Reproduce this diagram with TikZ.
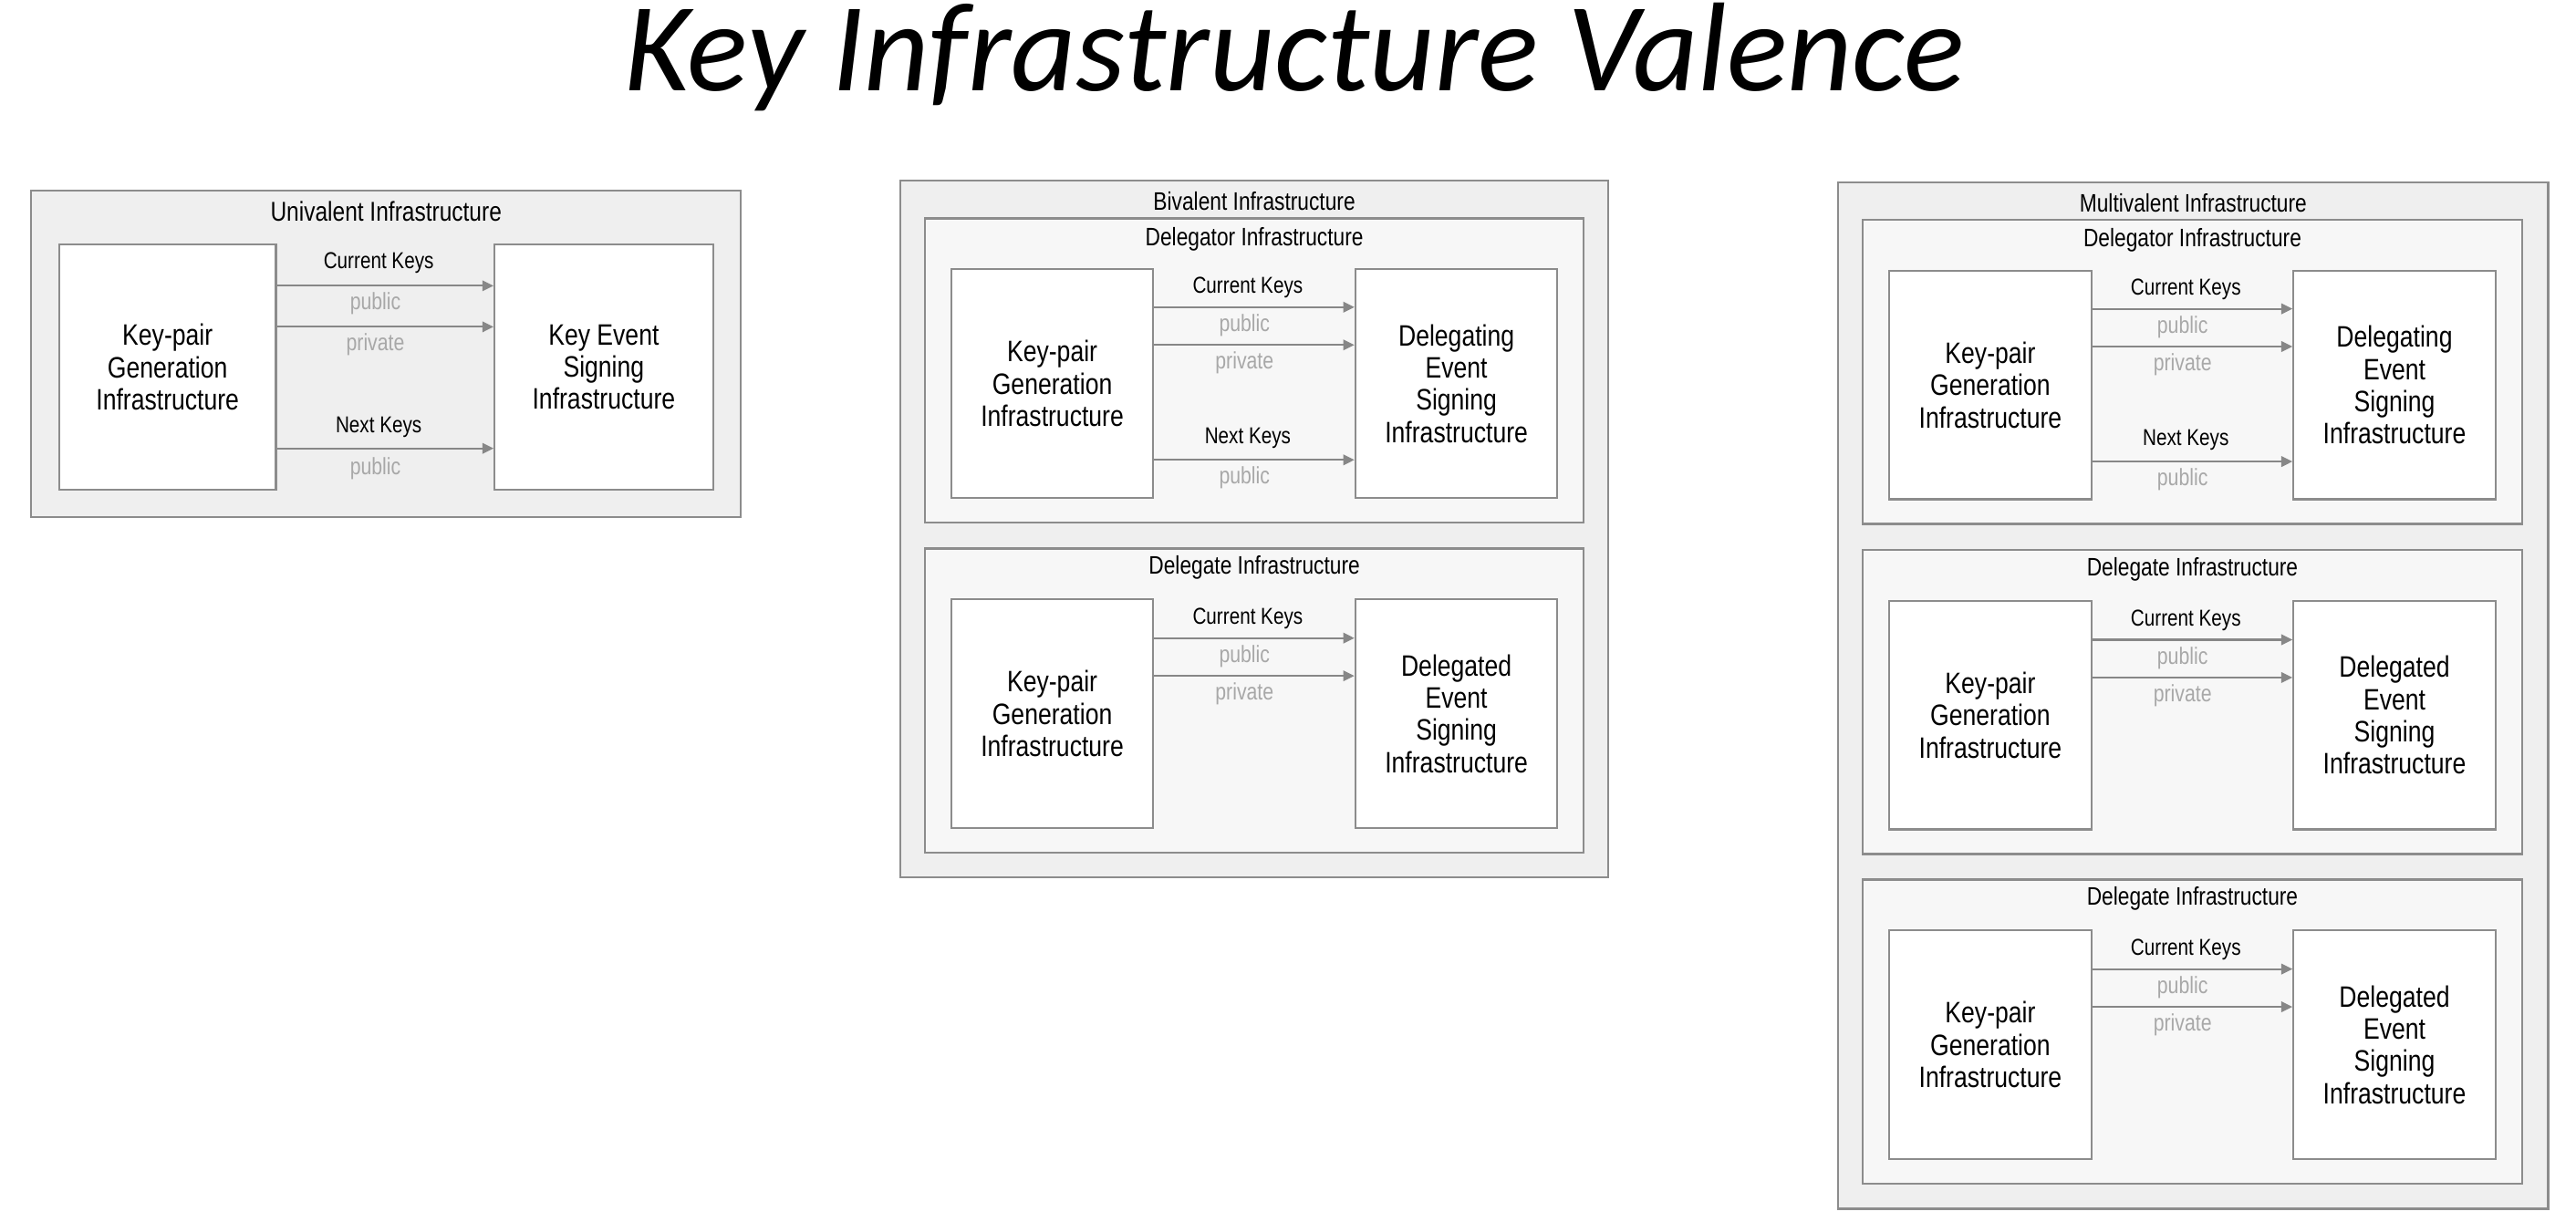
\documentclass[tikz,border=0pt]{standalone}
\usepackage{fontspec}
\setmainfont{Liberation Sans}[FakeStretch=0.82]
\newfontfamily\titlefont{Carlito}
\usetikzlibrary{arrows.meta,calc}
\definecolor{boxline}{HTML}{8C8C8C}
\definecolor{outerfill}{HTML}{EFEFEF}
\definecolor{innerfill}{HTML}{F7F7F7}
\definecolor{keygray}{HTML}{A8A8A8}
\definecolor{arrowgray}{HTML}{878787}

\begin{document}
\begin{tikzpicture}[x=0.5pt, y=-0.5pt,
    panel/.style={draw=boxline, fill=outerfill, line width=0.6pt, inner sep=0pt},
    subpanel/.style={draw=boxline, fill=innerfill, line width=0.6pt, inner sep=0pt, minimum width=200.5pt, minimum height=92.5pt},
    infra/.style={draw=boxline, fill=white, line width=0.6pt, align=center, inner sep=0pt, font=\fontsize{9}{9.8}\selectfont},
    infrabox/.style={infra, minimum width=61.5pt, minimum height=69.5pt},
    ttl/.style={font=\fontsize{7.7}{9}\selectfont},
    keyarrow/.style={draw=arrowgray, line width=0.6pt, -{Triangle[length=3.4pt, width=3.2pt]}},
    keyname/.style={midway, xshift=-2pt, yshift=6.5pt, font=\fontsize{7}{9}\selectfont},
    keypart/.style={midway, xshift=-3pt, yshift=-5.5pt, text=keygray, font=\fontsize{7.2}{9}\selectfont}]

\useasboundingbox (0,0) rectangle (1568,744);

\node[font=\titlefont\fontsize{38.5}{42}\selectfont\itshape, anchor=base] (T) at (788,55) {Key Infrastructure Valence};

% univalent
\node[panel, minimum width=216pt, minimum height=99.5pt] (U) at (235,215.5) {};
\node[ttl, font=\fontsize{8.3}{9}\selectfont] (UT) at ($(U.north)+(0,13.5)$) {Univalent Infrastructure};
\node[infra, minimum width=66pt, minimum height=74.5pt] (UG) at ($(U.center)+(-133,8)$) {Key-pair\\Generation\\Infrastructure};
\node[infra, minimum width=66.5pt, minimum height=74.5pt] (US) at ($(U.center)+(132.5,8)$) {Key Event\\Signing\\Infrastructure};
\draw[keyarrow] ($(UG.east)+(0,-49.5)$) -- ($(US.west)+(0,-49.5)$) node[keyname, yshift=0.5pt] {Current Keys} node[keypart] {public};
\draw[keyarrow] ($(UG.east)+(0,-24.5)$) -- ($(US.west)+(0,-24.5)$) node[keypart] {private};
\draw[keyarrow] ($(UG.east)+(0,49.5)$) -- ($(US.west)+(0,49.5)$) node[keyname] {Next Keys} node[keypart, yshift=-0.5pt] {public};

% bivalent and multivalent
\node[panel, minimum width=215.5pt, minimum height=212pt] (B) at (763.5,322) {};
\node[ttl] (BT) at ($(B.north)+(0,13)$) {Bivalent Infrastructure};
\node[panel, minimum width=216pt, minimum height=312.5pt] (M) at (1335,423.5) {};
\node[ttl] (MT) at ($(M.north)+(0,13)$) {Multivalent Infrastructure};

% delegator
\foreach \p/\cx/\cy in {B/763.5/225.5, M/1334.5/226.5}{
  \node[subpanel] (\p R) at (\cx,\cy) {};
  \node[ttl] (\p RT) at ($(\p R.north)+(0,13)$) {Delegator Infrastructure};
  \node[infrabox] (\p RG) at ($(\p R.center)+(-123,8)$) {Key-pair\\Generation\\Infrastructure};
  \node[infrabox] (\p RS) at ($(\p R.center)+(123,8)$) {Delegating\\Event\\Signing\\Infrastructure};
  \draw[keyarrow] ($(\p RG.east)+(0,-46.5)$) -- ($(\p RS.west)+(0,-46.5)$) node[keyname, yshift=-0.5pt] {Current Keys} node[keypart] {public};
  \draw[keyarrow] ($(\p RG.east)+(0,-23.5)$) -- ($(\p RS.west)+(0,-23.5)$) node[keypart] {private};
  \draw[keyarrow] ($(\p RG.east)+(0,46.5)$) -- ($(\p RS.west)+(0,46.5)$) node[keyname] {Next Keys} node[keypart] {public};
}

% delegates
\foreach \p/\cx/\cy in {B/763.5/426.5, M/1334.5/427.5, N/1334.5/628}{
  \node[subpanel] (\p E) at (\cx,\cy) {};
  \node[ttl] (\p ET) at ($(\p E.north)+(0,12)$) {Delegate Infrastructure};
  \node[infrabox] (\p EG) at ($(\p E.center)+(-123,8)$) {Key-pair\\Generation\\Infrastructure};
  \node[infrabox] (\p ES) at ($(\p E.center)+(123,8)$) {Delegated\\Event\\Signing\\Infrastructure};
  \draw[keyarrow] ($(\p EG.east)+(0,-46)$) -- ($(\p ES.west)+(0,-46)$) node[keyname, yshift=-0.5pt] {Current Keys} node[keypart] {public};
  \draw[keyarrow] ($(\p EG.east)+(0,-23)$) -- ($(\p ES.west)+(0,-23)$) node[keypart] {private};
}
\end{tikzpicture}
\end{document}
